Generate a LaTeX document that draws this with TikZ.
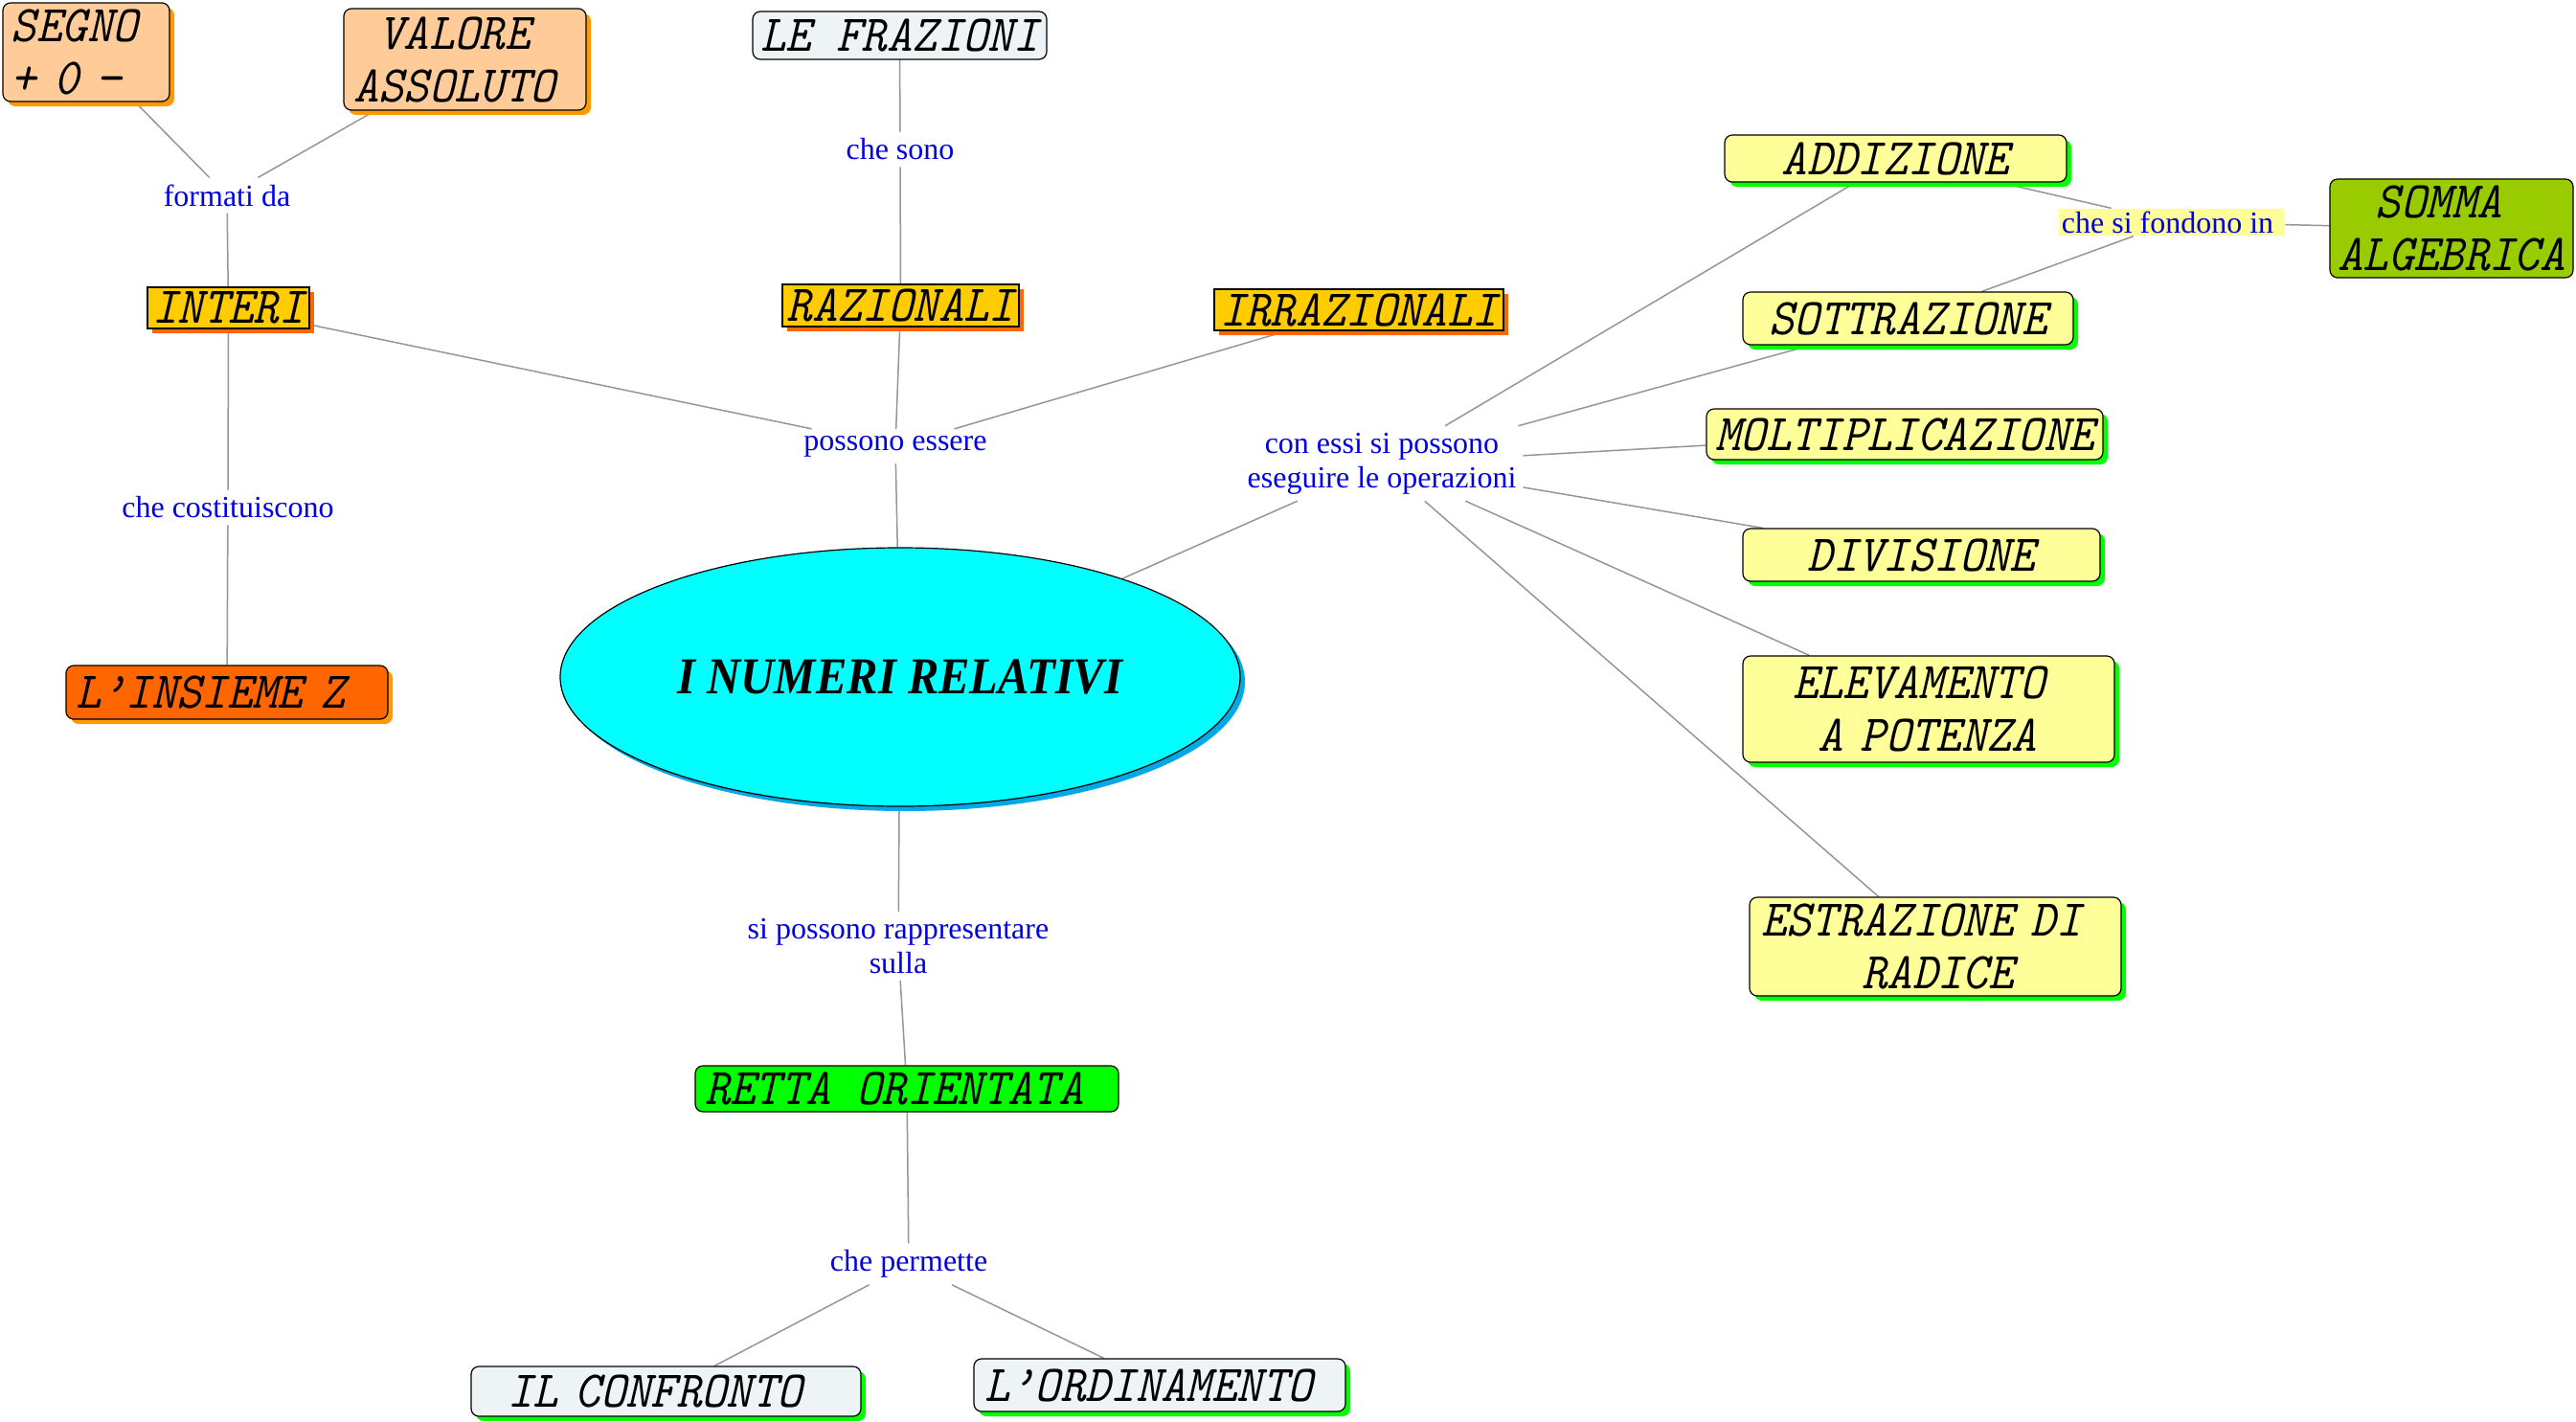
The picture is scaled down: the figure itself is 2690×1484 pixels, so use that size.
\documentclass[tikz,border=0pt]{standalone}
\usepackage{fontspec}
\usetikzlibrary{shapes.geometric,shadows,backgrounds}
\newfontfamily\nodeface[FakeStretch=0.93]{lmmono10-italic.otf}
\newfontfamily\labelface{Liberation Serif}
\newfontfamily\titleface[FakeStretch=0.9]{Liberation Serif}
\definecolor{peach}{HTML}{FFCC99}
\definecolor{amber}{HTML}{FF9900}
\definecolor{gold}{HTML}{FFCC00}
\definecolor{redorange}{HTML}{FF6600}
\definecolor{paleblue}{HTML}{EEF4F6}
\definecolor{paleyellow}{HTML}{FFFF99}
\definecolor{brightgreen}{HTML}{00FF00}
\definecolor{olivegreen}{HTML}{99CC00}
\definecolor{cyanfill}{HTML}{00FFFF}
\definecolor{cyanshadow}{HTML}{00A8E8}
\definecolor{lblue}{RGB}{0,0,225}
\definecolor{linegray}{RGB}{150,150,150}
\tikzset{
  box/.style={draw=black, line width=1.2pt, font=\nodeface\fontsize{54}{55}\selectfont,
    inner sep=0pt, align=center},
  rbox/.style={box, rounded corners=8pt},
  shad/.style={drop shadow={shadow xshift=5pt, shadow yshift=-5pt, opacity=1, fill=#1}},
  lbl/.style={font=\labelface\fontsize{32}{36}\selectfont, text=lblue, inner sep=7pt, align=center, yshift=-2pt},
  conn/.style={draw=linegray, line width=1.5pt},
}
\begin{document}
\begin{tikzpicture}[x=1pt,y=-1pt]
\useasboundingbox (0,0) rectangle (2690,1484);
% left branch
\node[rbox, fill=peach, shad=amber, minimum width=174pt, minimum height=103pt, text width=156pt, align=left] (segno) at (90,54.5) {SEGNO\\+ 0 −};
\node[rbox, fill=peach, shad=amber, minimum width=253pt, minimum height=106pt, text width=233pt, align=left] (valore) at (485.5,62) {\phantom{A}VALORE\\ASSOLUTO};
\node[lbl] (formati) at (237,202) {formati da};
\node[box, fill=gold, shad=redorange, minimum width=169pt, minimum height=43pt] (interi) at (238.5,321.5) {INTERI};
\node[lbl] (costituiscono) at (238,528) {che costituiscono};
\node[rbox, fill=redorange, shad=amber, minimum width=336pt, minimum height=56pt, text width=316pt, align=left] (insieme) at (237,723) {L’INSIEME Z};
% top middle
\node[rbox, fill=paleblue, minimum width=307pt, minimum height=50pt] (frazioni) at (939.5,37) {LE FRAZIONI};
\node[lbl] (chesono) at (940,154) {che sono};
\node[box, fill=gold, shad=redorange, minimum width=247pt, minimum height=44pt] (razionali) at (940.5,319) {RAZIONALI};
\node[box, fill=gold, shad=redorange, minimum width=302pt, minimum height=43pt] (irrazionali) at (1419,323.5) {IRRAZIONALI};
\node[lbl] (possono) at (935,464) {possono essere};
% center
\node[ellipse, draw=black, line width=1.2pt, fill=cyanfill, shad=cyanshadow, minimum width=710pt, minimum height=270pt, inner sep=0pt,
  font=\titleface\bfseries\itshape\fontsize{54}{60}\selectfont] (centro) at (940,707) {I NUMERI RELATIVI};
% bottom
\node[lbl] (rappresentare) at (938,986) {si possono rappresentare\\sulla};
\node[rbox, fill=brightgreen, minimum width=442pt, minimum height=48pt] (retta) at (947,1137) {RETTA ORIENTATA\phantom{X}};
\node[lbl] (permette) at (949,1318) {che permette};
\node[rbox, fill=paleblue, shad=brightgreen, minimum width=407pt, minimum height=52pt, text width=331pt, align=left] (confronto) at (695.5,1453) {IL CONFRONTO};
\node[rbox, fill=paleblue, shad=brightgreen, minimum width=388pt, minimum height=55pt, text width=366pt, align=left] (ordinamento) at (1211,1446.5) {L’ORDINAMENTO};
% right branch
\node[lbl] (conessi) at (1443,482) {con essi si possono\\eseguire le operazioni};
\node[rbox, fill=paleyellow, shad=brightgreen, minimum width=357pt, minimum height=49pt] (addizione) at (1979.5,165.5) {ADDIZIONE};
\node[lbl, fill=paleyellow, inner sep=3pt] (fondono) at (2268,230) {che si fondono in\phantom{i}};
\node[rbox, fill=olivegreen, minimum width=254pt, minimum height=103pt] (somma) at (2560,238.5) {SOMMA\phantom{X}\\ALGEBRICA};
\node[rbox, fill=paleyellow, shad=brightgreen, minimum width=345pt, minimum height=55pt] (sottrazione) at (1992.5,332.5) {SOTTRAZIONE};
\node[rbox, fill=paleyellow, shad=brightgreen, minimum width=414pt, minimum height=53pt] (moltiplicazione) at (1989,453.5) {MOLTIPLICAZIONE};
\node[rbox, fill=paleyellow, shad=brightgreen, minimum width=373pt, minimum height=55pt] (divisione) at (2006.5,579.5) {DIVISIONE};
\node[rbox, fill=paleyellow, shad=brightgreen, minimum width=388pt, minimum height=111pt, text width=284pt, align=left] (elevamento) at (2014,740.5) {ELEVAMENTO\\\phantom{X}A POTENZA};
\node[rbox, fill=paleyellow, shad=brightgreen, minimum width=388pt, minimum height=103pt, text width=364pt, align=left] (estrazione) at (2021,988.5) {ESTRAZIONE DI\\\phantom{XXXX}RADICE};
% connectors
\begin{scope}[on background layer]
\fill[white] (0,0) rectangle (2690,1484);
\draw[conn] (segno) -- (formati);
\draw[conn] (valore) -- (formati);
\draw[conn] (formati) -- (interi);
\draw[conn] (interi) -- (costituiscono);
\draw[conn] (costituiscono) -- (insieme);
\draw[conn] (interi) -- (possono);
\draw[conn] (razionali) -- (possono);
\draw[conn] (irrazionali) -- (possono);
\draw[conn] (possono) -- (centro);
\draw[conn] (frazioni) -- (chesono);
\draw[conn] (chesono) -- (razionali);
\draw[conn] (centro) -- (conessi);
\draw[conn] (conessi) -- (addizione);
\draw[conn] (conessi) -- (sottrazione);
\draw[conn] (conessi) -- (moltiplicazione);
\draw[conn] (conessi) -- (divisione);
\draw[conn] (conessi) -- (elevamento);
\draw[conn] (conessi) -- (estrazione);
\draw[conn] (addizione) -- (fondono);
\draw[conn] (sottrazione) -- (fondono);
\draw[conn] (fondono) -- (somma);
\draw[conn] (centro) -- (rappresentare);
\draw[conn] (rappresentare) -- (retta);
\draw[conn] (retta) -- (permette);
\draw[conn] (permette) -- (confronto);
\draw[conn] (permette) -- (ordinamento);
\end{scope}
\end{tikzpicture}
\end{document}
